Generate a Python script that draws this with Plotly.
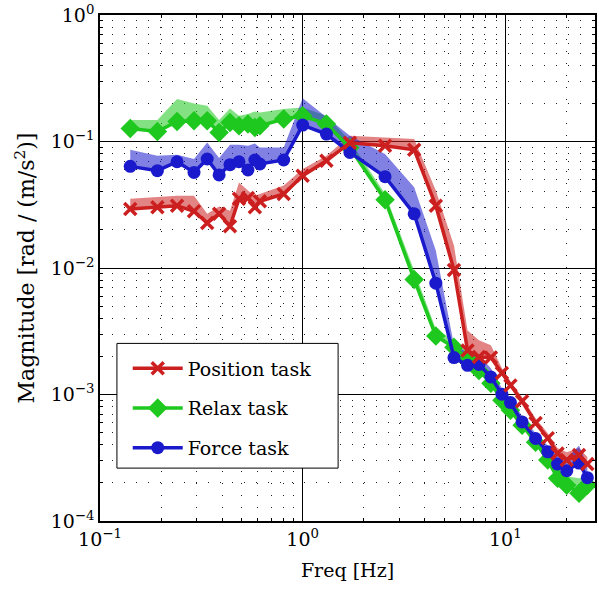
import plotly.graph_objects as go

# ---- data ----
freq = [0.141, 0.192, 0.240, 0.291, 0.338, 0.387, 0.438, 0.485, 0.537, 0.581, 0.615, 0.806, 1.0,
        1.31, 1.71, 2.55, 3.55, 4.54, 5.58, 6.51, 7.41, 8.49, 9.62, 10.6, 12.1, 14.1,
        16.2, 18.1, 20.1, 23.1, 25.4]

pos_mag = [0.0293, 0.0302, 0.0311, 0.0281, 0.0227, 0.0268, 0.0214, 0.0352, 0.0358, 0.0302, 0.0337, 0.0385, 0.0537,
           0.0705, 0.0978, 0.0926, 0.0861, 0.0311, 0.00964, 0.00223, 0.00198, 0.00196, 0.00148, 0.00118, 0.000885, 0.000596,
           0.000452, 0.000342, 0.000303, 0.000332, 0.000282]
pos_upper = [0.0352, 0.0362, 0.0373, 0.0373, 0.0268, 0.0306, 0.0284, 0.0475, 0.0409, 0.0373, 0.0385, 0.0448, 0.0606,
             0.0772, 0.111, 0.108, 0.1045, 0.0409, 0.01505, 0.00321, 0.00268, 0.00245, 0.00161, 0.00127, 0.000951, 0.00065,
             0.000494, 0.000377, 0.00035, 0.000377, 0.00032]

relax_mag = [0.1268, 0.1200, 0.1439, 0.1458, 0.1458, 0.1179, 0.1413, 0.1331, 0.1373, 0.1291, 0.1331, 0.1503, 0.1596,
             0.1373, 0.0893, 0.0347, 0.00812, 0.00290, 0.00236, 0.00193, 0.00155, 0.00123, 0.000901, 0.000751, 0.000572, 0.000420,
             0.000303, 0.000218, 0.000192, 0.000166, 0.000192]
relax_upper = [0.1476, 0.1476, 0.2163, 0.1996, 0.1914, 0.1476, 0.1823, 0.1596, 0.1646, 0.1726, 0.1695, 0.1803, 0.1856,
               0.1596, 0.1014, 0.0387, 0.00956, 0.0033, 0.00268, 0.00216, 0.00173, 0.00134, 0.000969, 0.000808, 0.000626, 0.000468,
               0.00035, 0.000262, 0.000226, 0.000218, 0.000226]

force_mag = [0.0636, 0.0588, 0.0692, 0.0570, 0.0727, 0.0544, 0.0656, 0.0692, 0.0595, 0.0714, 0.0664, 0.0714, 0.1348,
             0.1145, 0.0820, 0.0527, 0.0268, 0.00759, 0.00196, 0.00170, 0.00173, 0.001375, 0.001005, 0.000864, 0.000607, 0.000449,
             0.000352, 0.000282, 0.000250, 0.000287, 0.000220]
force_upper = [0.0861, 0.0772, 0.0786, 0.0727, 0.0983, 0.0740, 0.0943, 0.0943, 0.0926, 0.0965, 0.0898, 0.0898, 0.220,
               0.155, 0.111, 0.0796, 0.0434, 0.01374, 0.00245, 0.00216, 0.00204, 0.00161, 0.00112, 0.000951, 0.000674, 0.000494,
               0.000398, 0.00033, 0.00031, 0.000395, 0.000272]

x_ticks = [0.1, 1, 10]
x_ticktext = ["10<sup>−1</sup>", "10<sup>0</sup>", "10<sup>1</sup>"]
y_ticks = [1e-4, 1e-3, 1e-2, 1e-1, 1]
y_ticktext = ["10<sup>−4</sup>", "10<sup>−3</sup>", "10<sup>−2</sup>", "10<sup>−1</sup>", "10<sup>0</sup>"]

FONT = "DejaVu Serif"

series = [
    ("Position task", pos_mag, pos_upper, "#cc1f1f", "rgba(204,31,31,0.55)", dict(symbol="x-thin", size=12, line=dict(width=3.5, color="#cc1f1f")), 1),
    ("Relax task", relax_mag, relax_upper, "#1ec81e", "rgba(30,200,30,0.55)", dict(symbol="diamond", size=15), 2),
    ("Force task", force_mag, force_upper, "#1a1acc", "rgba(26,26,204,0.55)", dict(symbol="circle", size=13), 3),
]

fig = go.Figure()

# confidence bands
for name, mag, up, col, fcol, mk, rank in series:
    fig.add_trace(go.Scatter(
        x=freq + freq[::-1], y=up + mag[::-1], fill="toself", fillcolor=fcol,
        mode="lines", line=dict(width=0), hoverinfo="skip", showlegend=False))

# lines
for idx in [1, 2, 0]:
    name, mag, up, col, fcol, mk, rank = series[idx]
    m = dict(mk)
    m["color"] = col
    fig.add_trace(go.Scatter(
        x=freq, y=mag, name=name, mode="lines+markers",
        line=dict(color=col, width=3.5), marker=m,
        legendgroup=name, legendrank=rank))

x_minor = [m * 10.0 ** k for k in range(-1, 2) for m in range(2, 10)]
y_minor = [m * 10.0 ** k for k in range(-4, 0) for m in range(2, 10)]

axis_common = dict(
    type="log", ticks="inside", ticklen=6, tickcolor="black",
    showgrid=True, gridcolor="black", gridwidth=1.2,
    showline=True, linecolor="black", linewidth=1.5, mirror="allticks",
    zeroline=False, tickfont=dict(family=FONT, size=19, color="black"),
)
minor_common = dict(ticks="inside", ticklen=3, tickcolor="black",
                    showgrid=True, gridcolor="#222", griddash="1px,11px", gridwidth=1)

fig.update_layout(
    width=599, height=590,
    margin=dict(l=100, r=2, t=14, b=69),
    plot_bgcolor="white", paper_bgcolor="white",
    font=dict(family=FONT, size=19, color="black"),
    xaxis=dict(range=[-1, 1.4425], tickvals=x_ticks, ticktext=x_ticktext,
               minor=dict(tickvals=x_minor, **minor_common),
               title=dict(text="Freq [Hz]", standoff=15, font=dict(family=FONT, size=19, color="black")),
               **axis_common),
    yaxis=dict(range=[-4, 0], tickvals=y_ticks, ticktext=y_ticktext,
               minor=dict(tickvals=y_minor, **minor_common),
               title=dict(text="Magnitude [rad / (m/s<sup>2</sup>)]", standoff=10,
                          font=dict(family=FONT, size=22, color="black")),
               **axis_common),
    legend=dict(x=0.056, y=0.339, xanchor="left", yanchor="top",
                borderwidth=0, bgcolor="rgba(0,0,0,0)",
                font=dict(family=FONT, size=19, color="black"),
                traceorder="grouped", tracegroupgap=12, itemwidth=50),
    showlegend=True,
    # legend frame (white box with black border, behind the legend entries)
    shapes=[dict(type="rect", xref="paper", yref="paper",
                 x0=0.0342, x1=0.481, y0=0.1045, y1=0.351,
                 fillcolor="white", line=dict(color="black", width=1), layer="above")],
)

fig.write_html("out.html")
